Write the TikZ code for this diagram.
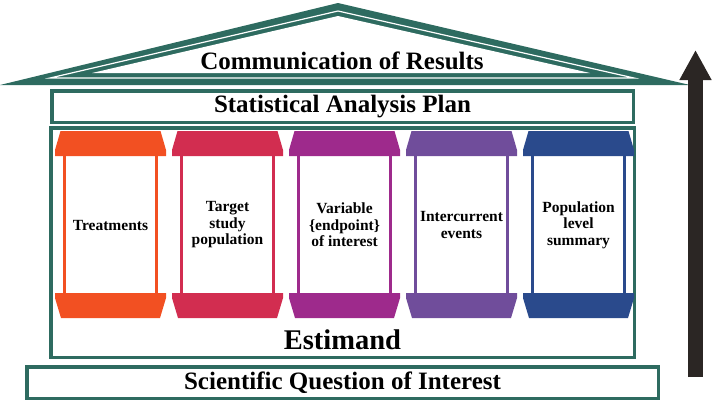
\documentclass[tikz,border=0pt]{standalone}
\usepackage{fontspec}
\setmainfont{Liberation Serif}
\usetikzlibrary{arrows.meta,calc}
\definecolor{houseteal}{RGB}{46,107,96}
\definecolor{porange}{RGB}{242,80,34}
\definecolor{pcrimson}{RGB}{210,45,80}
\definecolor{pmagenta}{RGB}{158,42,140}
\definecolor{ppurple}{RGB}{112,77,155}
\definecolor{pnavy}{RGB}{42,74,140}
\definecolor{arrowdark}{RGB}{43,38,36}
\tikzset{
    >=Stealth,
    house/.style={
        beam/.append style={draw=houseteal,line width=3.5pt,inner sep=0pt,font=\bfseries\fontsize{25}{25}\selectfont},
        pillar/.append style={draw,line width=3pt,fill=white,minimum width=92pt,minimum height=150pt,align=center,font=\bfseries\fontsize{15.5}{16.5}\selectfont},
        title/.append style={inner sep=0pt,font=\bfseries\fontsize{25}{25}\selectfont},
        rise/.append style={-{Triangle[width=30pt,length=30pt]},line width=15pt,draw=arrowdark}
    }
}

\begin{document}
\begin{tikzpicture}[house,x=1pt,y=-1pt]
    \useasboundingbox (0,0) rectangle (720,405);

    % roof
    \fill[houseteal] (0,85) -- (338,3) -- (690,85) -- cycle;
    \draw[white,line width=1.2pt] (50,78) -- (338,11) -- (634,78) -- cycle;
    \fill[white] (92,73) -- (338,16) -- (590,73) -- cycle;
    \node[title] (comm) at (342,61) {Communication of Results};

    % boxes
    \node[beam,minimum width=581.5pt,minimum height=31.5pt] (sap) at (342.5,106.5) {Statistical Analysis Plan};
    \node[beam,minimum width=583.5pt,minimum height=229.5pt] (est) at (342.5,242.5) {};
    \node[title,font=\bfseries\fontsize{28.5}{28.5}\selectfont] (estname) at (342.5,340) {Estimand};
    \node[beam,minimum width=631.5pt,minimum height=31.5pt] (sqi) at (342.5,382.5) {Scientific Question of Interest};

    % pillars
    \foreach \i/\col/\txt in {1/porange/Treatments,
                              2/pcrimson/{Target\\study\\population},
                              3/pmagenta/{Variable\\\{endpoint\}\\of interest},
                              4/ppurple/{Intercurrent\\events},
                              5/pnavy/{Population\\level\\summary}} {
        \pgfmathsetmacro{\x}{110.5+117*(\i-1)}
        \node[pillar,draw=\col] (p\i) at (\x,225) {\txt};
        \fill[\col] (\x-50,131) -- (\x+50,131) -- (\x+55.5,150) -- (\x+55.5,156)
            -- (\x-55.5,156) -- (\x-55.5,150) -- cycle;
        \fill[\col] (\x-55.5,293) -- (\x+55.5,293) -- (\x+55.5,298) -- (\x+49.5,318)
            -- (\x-49.5,318) -- (\x-55.5,298) -- cycle;
    }

    % arrow
    \coordinate (low) at (695.5,377);
    \coordinate (high) at (695.5,50);
    \draw[rise] (low) -- (high);
\end{tikzpicture}
\end{document}
